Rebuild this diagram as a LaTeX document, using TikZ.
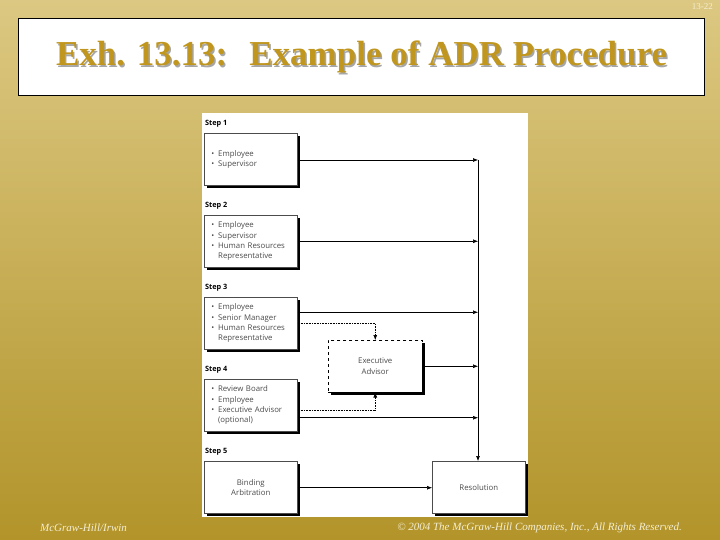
\documentclass[tikz,border=0pt]{standalone}
\usepackage{fontspec}
\setmainfont{Liberation Serif}
\newfontfamily\boxfont{Open Sans}
\usetikzlibrary{arrows.meta,shadows,calc}
\definecolor{titlegold}{RGB}{192,150,30}
\definecolor{bgtop}{RGB}{220,200,130}
\definecolor{bgmid}{RGB}{200,172,80}
\definecolor{bgbot}{RGB}{178,148,42}
\definecolor{foot}{RGB}{245,238,210}
\definecolor{boxtext}{RGB}{75,75,75}
\tikzset{
  stepbox/.style={draw=black!70, line width=0.5pt, fill=white, minimum width=93pt, minimum height=52pt,
    inner xsep=7pt, text width=79pt, align=left, font=\boxfont\fontsize{7.8}{10.2}\selectfont, text=boxtext,
    drop shadow={shadow xshift=3pt, shadow yshift=-3pt, fill=black, opacity=1}},
  cbox/.style={stepbox, align=center},
  steplabel/.style={anchor=west, font=\boxfont\bfseries\fontsize{7.3}{8}\selectfont, inner sep=0pt},
  arr/.style={line width=0.6pt, -{Latex[length=5pt,width=4pt]}},
  darr/.style={line width=0.6pt, densely dotted, -{Latex[length=5pt,width=4pt]}},
}
\newcommand{\bl}{\textbullet}
\begin{document}
\begin{tikzpicture}[x=1pt,y=-1pt]
\useasboundingbox (0,0) rectangle (720,540);
\shade[top color=bgtop, middle color=bgmid, bottom color=bgbot] (0,0) rectangle (720,540);
% title
\node[draw=black, line width=1.2pt, fill=white, minimum width=686pt, minimum height=77pt, anchor=north west] (tbox) at (18,18) {};
\node[text=gray!70, font=\bfseries\fontsize{35}{38}\selectfont] at ($(tbox.center)+(1.5,1.5)$) {Exh. 13.13:\hspace{0.3em} Example of ADR Procedure};
\node[text=titlegold, font=\bfseries\fontsize{35}{38}\selectfont] (title) at (tbox.center) {Exh. 13.13:\hspace{0.3em} Example of ADR Procedure};
\node[text=foot, font=\fontsize{9}{10}\selectfont, anchor=north east, inner sep=0pt] (pg) at (713,3) {13-22};
% panel
\node[fill=white, minimum width=326pt, minimum height=404pt, anchor=north west, inner sep=0pt] (panel) at (202,113) {};
% steps
\node[steplabel] (l1) at (205,124) {Step 1};
\node[stepbox, anchor=north west] (s1) at (204,133) {\begin{tabular}{@{}l@{\hspace{4pt}}l@{}}\bl & Employee\\ \bl & Supervisor\end{tabular}};
\node[steplabel] (l2) at (205,206) {Step 2};
\node[stepbox, anchor=north west] (s2) at (204,215) {\begin{tabular}{@{}l@{\hspace{4pt}}l@{}}\bl & Employee\\ \bl & Supervisor\\ \bl & Human Resources\\ & Representative\end{tabular}};
\node[steplabel] (l3) at (205,288) {Step 3};
\node[stepbox, anchor=north west] (s3) at (204,297) {\begin{tabular}{@{}l@{\hspace{4pt}}l@{}}\bl & Employee\\ \bl & Senior Manager\\ \bl & Human Resources\\ & Representative\end{tabular}};
\node[steplabel] (l4) at (205,370) {Step 4};
\node[stepbox, anchor=north west] (s4) at (204,379) {\begin{tabular}{@{}l@{\hspace{4pt}}l@{}}\bl & Review Board\\ \bl & Employee\\ \bl & Executive Advisor\\ & (optional)\end{tabular}};
\node[steplabel] (l5) at (205,452) {Step 5};
\node[cbox, anchor=north west] (s5) at (204,461) {Binding\\Arbitration};
\node[cbox, anchor=north west, dashed, draw=black, minimum width=94pt] (adv) at (328,340) {Executive\\Advisor};
\node[cbox, anchor=north west, minimum width=93pt] (res) at (432,461) {Resolution};
% connectors
\coordinate (vt) at (478,160);
\draw[arr] (vt) -- (vt |- res.north);
\draw[arr] (s1.east |- vt) -- (vt);
\draw[arr] (s2.east) -- (s2.east -| vt);
\draw[arr] ([yshift=11pt]s3.east) -- ([yshift=11pt]s3.east -| vt);
\draw[arr] (adv.east) -- (adv.east -| vt);
\draw[arr] ([yshift=-12.5pt]s4.east) -- ([yshift=-12.5pt]s4.east -| vt);
\draw[arr] ([yshift=-0.5pt]s5.east) -- ([yshift=-0.5pt]s5.east -| res.west);
\draw[darr] (s3.east) -| (adv.north);
\draw[darr] ([yshift=-5.5pt]s4.east) -| (adv.south);
% footer
\node[text=foot, font=\itshape\fontsize{11}{12}\selectfont, anchor=west, inner sep=0pt] (f1) at (40,528) {McGraw-Hill/Irwin};
\node[text=foot, font=\itshape\fontsize{11}{12}\selectfont, anchor=east, inner sep=0pt] (f2) at (682,528) {\textcopyright{} 2004 The McGraw-Hill Companies, Inc., All Rights Reserved.};
\end{tikzpicture}
\end{document}
